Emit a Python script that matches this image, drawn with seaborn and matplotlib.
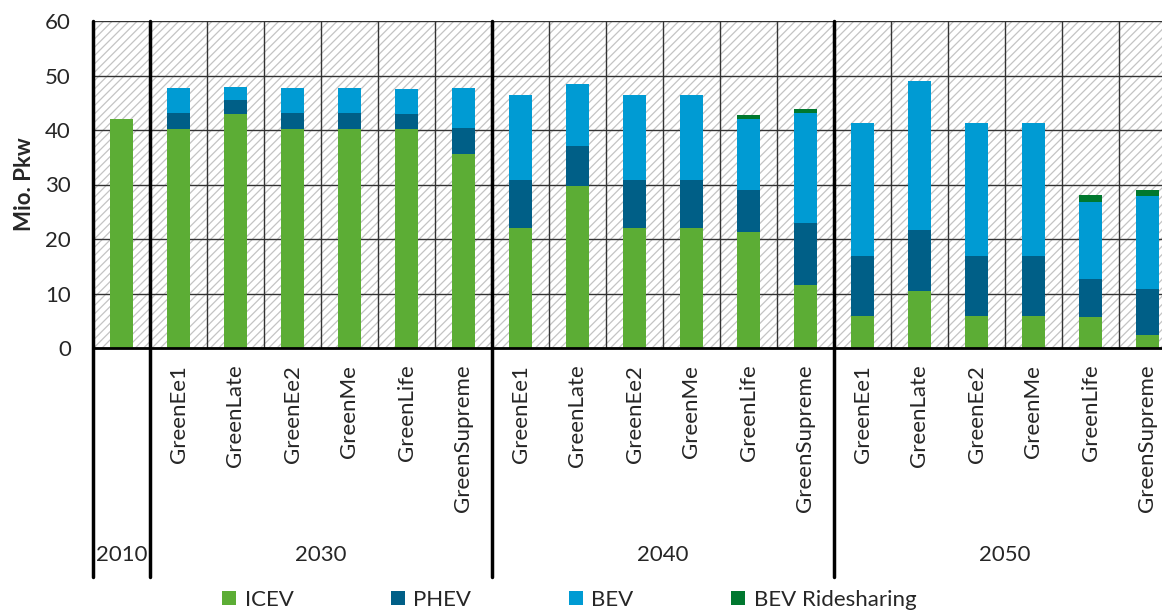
import pandas as pd
import matplotlib
matplotlib.use('Agg')
import matplotlib.pyplot as plt
import seaborn as sns
from matplotlib.patches import Rectangle
from matplotlib.lines import Line2D

# Daten (Mio. Pkw)
years = ['2010', '2030', '2040', '2050']
scenarios = ['GreenEe1', 'GreenLate', 'GreenEe2', 'GreenMe', 'GreenLife', 'GreenSupreme']
tick_labels = [''] + scenarios * 3

icev = [42.0,
        40.2, 43.0, 40.2, 40.2, 40.2, 35.6,
        22.1, 29.7, 22.1, 22.1, 21.3, 11.6,
        5.9, 10.5, 5.9, 5.9, 5.6, 2.3]
phev = [0.0,
        3.0, 2.5, 3.0, 3.0, 2.8, 4.8,
        8.7, 7.4, 8.7, 8.7, 7.7, 11.4,
        11.0, 11.2, 11.0, 11.0, 7.1, 8.6]
bev = [0.0,
       4.5, 2.3, 4.5, 4.5, 4.6, 7.3,
       15.7, 11.3, 15.7, 15.7, 13.1, 20.2,
       24.4, 27.2, 24.4, 24.4, 14.1, 16.9]
bev_rs = [0.0,
          0, 0, 0, 0, 0, 0,
          0, 0, 0, 0, 0.6, 0.6,
          0, 0, 0, 0, 1.3, 1.2]

colors = {'ICEV': '#5CAD35', 'PHEV': '#005F87', 'BEV': '#009BD3', 'BEV Ridesharing': '#00782F'}

df = pd.DataFrame({'pos': range(len(icev)), 'ICEV': icev, 'PHEV': phev,
                   'BEV': bev, 'BEV Ridesharing': bev_rs})
df['c_icev'] = df['ICEV']
df['c_phev'] = df['c_icev'] + df['PHEV']
df['c_bev'] = df['c_phev'] + df['BEV']
df['c_rs'] = df['c_bev'] + df['BEV Ridesharing']

sns.set_style('white')
plt.rcParams['font.family'] = ['Lato', 'DejaVu Sans']
plt.rcParams['hatch.linewidth'] = 0.9
FS = 16

fig = plt.figure(figsize=(11.62, 6.13), dpi=100)
ax = fig.add_axes([93 / 1162, 1 - 348 / 613, 1083 / 1162, 327 / 613])

# schraffierter Hintergrund
ax.add_patch(Rectangle((0, 0), 1, 1, transform=ax.transAxes, facecolor='white',
                       edgecolor='#c4c4c4', hatch='////', lw=0, zorder=0))

# gestapelte Balken: kumulierte Summen von oben nach unten zeichnen
for col, name in [('c_rs', 'BEV Ridesharing'), ('c_bev', 'BEV'),
                  ('c_phev', 'PHEV'), ('c_icev', 'ICEV')]:
    sns.barplot(data=df, x='pos', y=col, color=colors[name], width=0.4,
                saturation=1, errorbar=None, linewidth=0, ax=ax, zorder=2)

ax.set_xlim(-0.5, 18.5)
ax.set_ylim(0, 60)
ax.set_yticks(range(0, 61, 10))
ax.set_xticks(range(1, 19))
ax.set_xticklabels(scenarios * 3, rotation=90, va='top', ha='center')
ax.set_xticks([i + 0.5 for i in range(18)], minor=True)
ax.set_xlabel('')
ax.set_ylabel('Mio. Pkw', fontsize=FS, fontweight='bold')
ax.yaxis.set_label_coords(-0.054, 0.5)

ax.grid(False)
ax.yaxis.grid(True, which='major', color='#333333', lw=1)
ax.xaxis.grid(True, which='minor', color='#333333', lw=1)
ax.set_axisbelow(True)
ax.tick_params(axis='both', which='both', length=0, labelsize=FS)
ax.tick_params(axis='x', pad=12)
ax.tick_params(axis='y', pad=16)

for s in ['top', 'right', 'left']:
    ax.spines[s].set_visible(False)
ax.spines['bottom'].set_color('black')
ax.spines['bottom'].set_linewidth(2)
ax.spines['bottom'].set_zorder(6)

# Trennlinien der Jahresgruppen
for xv in [-0.5, 0.5, 6.5, 12.5]:
    ax.plot([xv, xv], [1, -0.70], transform=ax.get_xaxis_transform(),
            color='black', lw=2.5, clip_on=False, zorder=6)

for xv, yr in zip([0, 3.5, 9.5, 15.5], years):
    ax.text(xv, -0.633, yr, transform=ax.get_xaxis_transform(),
            ha='center', va='center', fontsize=FS)

handles = [Line2D([], [], marker='s', linestyle='', markersize=10,
                  markerfacecolor=colors[n], markeredgewidth=0, label=n)
           for n in ['ICEV', 'PHEV', 'BEV', 'BEV Ridesharing']]
fig.legend(handles=handles, loc='center', bbox_to_anchor=(0.489, 0.022), ncol=4,
           frameon=False, fontsize=FS, columnspacing=4.3, handletextpad=0.3,
           handlelength=0.8, borderaxespad=0)

fig.savefig('out.png', dpi=100)
